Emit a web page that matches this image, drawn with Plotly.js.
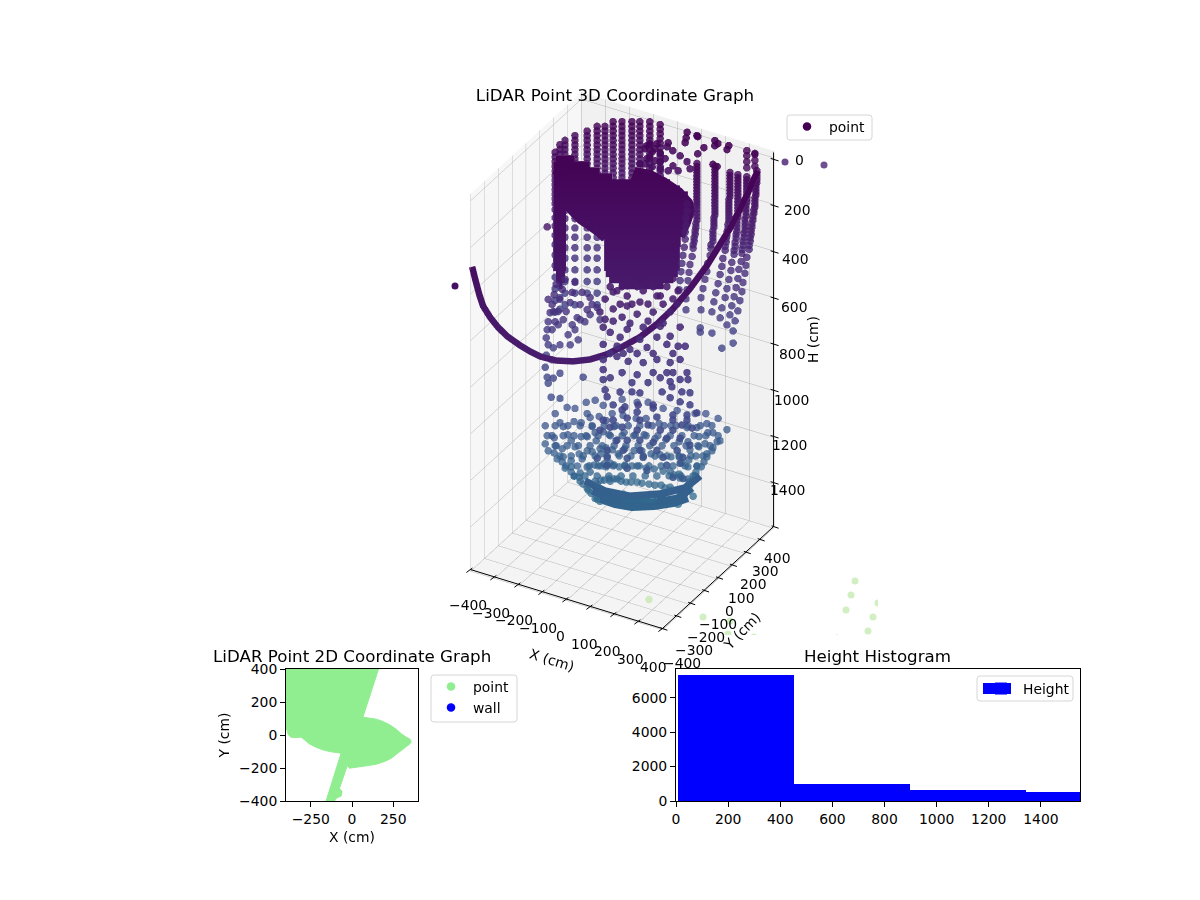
<!DOCTYPE html>
<html>
<head>
<meta charset="utf-8">
<script src="https://cdn.plot.ly/plotly-3.0.1.min.js"></script>
<style>html,body{margin:0;padding:0;background:#fff;overflow:hidden}</style>
</head>
<body>
<div id="chart" style="width:1200px;height:900px"></div>
<script>
// tick labels
const xyTicks = [-400, -300, -200, -100, 0, 100, 200, 300, 400];
const heightTicks = [0, 200, 400, 600, 800, 1000, 1200, 1400];

// back wall columns: x, y, highest point, lowest point (cm), all on the shared scan levels
const scanLevels = [4, 24, 44, 64, 84, 104, 124, 144, 164, 184, 204, 224, 244, 264, 284, 304, 324, 350, 385, 420, 460, 500, 545, 590, 640, 690, 740, 790];
const backColumns = [
    [-384, 182, 104, 790], [-379, 208, 84, 790], [-378, 243, 84, 790], [-347, 261, 64, 790],
    [-309, 283, 44, 740], [-278, 301, 24, 790], [-253, 315, 24, 500], [-228, 330, 4, 324],
    [-200, 346, 4, 324], [-169, 364, 4, 324], [-144, 378, 4, 324], [-113, 396, 4, 324], [-71, 398, 4, 324]
];

// curved columns on the right, x y h
const rightColumns = [
    [325,396,2],[325,396,6],[325,396,32],[325,396,58],
    [346,373,57],[346,373,83],[346,373,109],[343,372,135],[343,372,161],[340,370,187],[340,370,213],[337,368,239],[334,366,269],[331,364,299],[328,363,330],[325,361,360],[322,359,395],[315,355,429],[312,354,464],[309,352,498],[303,348,537],[300,346,576],[293,343,615],[287,339,659],[278,334,702],[272,330,745],
    [346,373,70],[346,373,96],[343,372,122],[343,372,148],[340,370,174],[340,370,200],[337,368,226],[334,366,254],[331,364,284],[328,363,315],[325,361,345],[322,359,378],
    [290,398,2],[290,398,24],[290,398,50],[290,398,76],
    [315,355,83],[315,355,109],[315,355,135],[315,355,161],[315,355,191],[312,354,221],[312,354,252],[309,352,282],[309,352,312],[306,350,343],[303,348,377],[300,346,412],[297,345,447],[290,341,481],[287,339,520],[281,336,559],[275,332,598],[268,328,637],[262,325,676],[253,319,719],
    [315,355,96],[315,355,122],[315,355,148],[315,355,176],[312,354,206],[312,354,236],[309,352,267],[309,352,297],[306,350,327],[303,348,360],[300,346,395],
    [287,339,74],[287,339,100],[287,339,126],[287,339,152],[287,339,178],[287,339,204],[287,339,230],[287,339,256],[284,337,286],[284,337,317],[281,336,347],[278,334,382],[275,332,416],[268,328,451],[265,327,486],[259,323,524],[253,319,563],[247,316,602],[237,310,646],[231,307,689],
    [287,339,87],[287,339,113],[287,339,139],[287,339,165],[287,339,191],[287,339,217],[287,339,243],[284,337,271],[284,337,301],[281,336,332],[278,334,365],[275,332,399],
    [262,325,65],[262,325,91],[262,325,117],[262,325,143],[262,325,169],[259,323,195],[259,323,221],[259,323,247],[259,323,273],[256,321,304],[253,319,334],[250,318,364],[247,316,399],[240,312,434],[237,310,468],[231,307,503],[225,303,542],[218,299,581],[212,296,620],[206,292,663],
    [262,325,78],[262,325,104],[262,325,130],[262,325,156],[259,323,182],[259,323,208],[259,323,234],[259,323,260],[256,321,288],[253,319,319],[250,318,349],[247,316,382],
    [215,298,39],[215,298,65],[215,298,91],[215,298,117],[215,298,143],[215,298,169],[215,298,195],[215,298,221],[215,298,247],[212,296,273],[212,296,299],[209,294,330],[209,294,360],[203,290,390],[200,289,421],[193,285,455],[190,283,490],[184,280,524],[178,276,563],[172,272,602],[172,272,654],[169,271,732],
    [215,298,52],[215,298,78],[215,298,104],[215,298,130],[215,298,156],[215,298,182],[215,298,208],[215,298,234],[212,296,260],[212,296,286],[209,294,315],[209,294,345],[203,290,375],
    [159,265,26],[159,265,52],[159,265,78],[159,265,104],[159,265,130],[159,265,156],[159,265,182],[159,265,208],[159,265,239],[159,265,269],[156,263,299],[153,262,330],[150,260,360],[147,258,390],[144,256,425],[137,253,460],[134,251,494],[131,249,529],[128,247,568],[125,245,607],[125,245,654],
    [159,265,39],[159,265,65],[159,265,91],[159,265,117],[159,265,143],[159,265,169],[159,265,195],[159,265,223],[159,265,254],[156,263,284],[153,262,315],[150,260,345],[147,258,375],
    [128,247,200],[128,247,230],[125,245,260],[125,245,291],[122,244,321],[122,244,351],[119,242,386],[115,240,421],[112,238,455],[109,236,490],[106,235,529],[103,233,568],
    [237,310,819],[272,330,797],[169,271,750],[206,292,754]
];

// scattered returns at the top right, x y h
const topScatter = [
    [41,398,2],[38,396,26],[84,395,1],[89,392,2],[116,390,40],[89,392,76],[157,398,1],[157,398,23],[170,398,10],[216,396,3],[208,397,23],[209,294,30],[222,301,39],[37,391,44],[-31,386,63],[-34,384,80],[-11,386,91],[16,391,107],
    [-72,305,44],[-41,323,36],[-56,314,70],[-72,305,100],[-31,329,113],[9,352,131],[53,377,113],[-78,301,57],[-63,310,36],[-47,319,57],[-31,329,79],[-16,338,100],[-94,292,122],[-78,301,122],[-56,314,135],[-31,329,144],[-6,343,152],[25,361,152],[62,383,144],[-63,310,92],[-47,319,109]
];

// lower left returns, x y h
const lowerLeft = [
    [-234,-135,204],
    [-206,-119,450],[-212,-123,494],[-219,-126,537],[-225,-130,572],[-231,-133,611],[-234,-135,645],[-237,-137,680],[-219,-126,645],[-209,-121,611],[-200,-115,567],[-194,-112,515],[-187,-108,472],[-178,-103,429],[-184,-106,602],[-175,-101,567],[-162,-94,528],[-156,-90,485],[-147,-85,442],[-156,-90,624],[-140,-81,593],[-131,-76,537],[-125,-72,485],[-116,-67,611],[-100,-58,580],[-94,-54,537],[-231,-133,710],[-215,-124,723],[-237,-137,754],[-219,-126,775],[-240,-139,806],[-234,-135,849],[-231,-133,875],[-215,-124,853],[-194,-112,832],[-222,-128,935],[-194,-112,940],[-122,-70,849],
    [-231,-133,515],[-215,-124,567],[-200,-115,624],[-169,-97,667],[-147,-85,645],[-131,-76,602],[-109,-63,559],[-100,-58,507],[-78,-45,550],[-194,-112,710],[-162,-94,710],[-137,-79,689],[-69,-40,602]
];

// sparse front returns in the middle, x y h
const frontPoints = [
    [113,-282,271],[134,-269,289],[150,-260,271],[166,-251,311],[197,-233,271],[216,-222,289],[247,-204,271],[269,-191,311],[290,-179,271],[325,-159,289],
    [144,-264,346],[181,-242,346],[231,-213,346],[278,-186,346],[322,-161,346],[122,-276,419],[175,-246,428],[231,-213,419],[278,-186,428],
    [113,-282,558],[153,-258,558],[197,-233,558],[247,-204,558],[309,-168,558],
    [97,-291,324],[122,-276,294],[166,-251,268],[206,-228,237],[259,-197,250],[309,-168,237],
    [81,-300,380],[122,-276,367],[166,-251,354],[206,-228,337],[259,-197,311],[309,-168,324],
    [97,-291,411],[150,-260,402],[197,-233,389],[247,-204,380],[300,-173,380],
    [91,-294,445],[113,-282,467],[166,-251,454],[216,-222,445],[269,-191,441],[331,-155,445],
    [144,-264,488],[206,-228,497],[259,-197,488],[300,-173,484],
    [91,-294,519],[134,-269,527],[175,-246,540],[228,-215,532],[290,-179,519],[347,-146,527],[325,-159,527],
    [91,-294,584],[134,-269,571],[169,-249,592],[216,-222,597],[259,-197,584],[300,-173,597],[331,-155,584],
    [91,-294,627],[150,-260,640],[197,-233,649],[247,-204,640],[290,-179,640],[309,-168,640],[353,-143,640],
    [91,-294,670],[113,-282,662],[181,-242,683],[231,-213,683],[269,-191,662],[300,-173,679],[331,-155,670],[356,-141,670],
    [97,-291,714],[144,-264,723],[181,-242,723],[206,-228,727],[275,-188,723],[306,-170,701],[337,-152,723],[362,-137,727],
    [103,-287,744],[122,-276,779],[159,-255,787],[200,-231,779],[247,-204,779],[300,-173,748],[331,-155,766],[362,-137,779],
    [150,-260,800],[197,-233,809],[247,-204,792],[309,-168,822],[353,-143,822],[384,-125,813],
    [91,-294,844],[122,-276,844],[166,-251,835],[206,-228,844],[259,-197,831],[309,-168,844],[353,-143,844],
    [81,-300,887],[113,-282,874],[150,-260,874],[197,-233,887],[231,-213,865],[269,-191,887],[309,-168,887],[337,-152,865],[369,-134,878],
    [134,-269,930],[166,-251,930],[206,-228,930],[247,-204,939],[290,-179,922],[331,-155,922],[362,-137,952],
    [103,-287,974],[153,-258,974],[206,-228,974],[259,-197,974],[322,-161,974],
    [72,-305,1008],[103,-287,1004],[166,-251,1008],[216,-222,1004],[278,-186,1004],[340,-150,1004],
    [103,-287,1038],[166,-251,1051],[228,-215,1060],[290,-179,1038],[331,-155,1030],
    [309,-168,1090],[340,-150,1095]
];

// bowl on the floor side: one row per scan line [x list, y list, h list]
const bowlSpokes = [
    [[-240,-212,-187,-159,-131,-106,-78],[-139,-123,-108,-92,-76,-61,-45],[1057,1109,1156,1208,1260,1308,1360]],
    [[-234,-209,-184,-159,-134,-109,-84],[-135,-121,-106,-92,-78,-63,-49],[1100,1143,1191,1234,1278,1325,1369]],
    [[-240,-212,-187,-159,-131,-106,-78],[-139,-123,-108,-92,-76,-61,-45],[1135,1174,1213,1256,1295,1334,1373]],
    [[-231,-203,-178,-150,-122,-97,-69],[-133,-117,-103,-87,-70,-56,-40],[1165,1200,1239,1273,1308,1347,1382]],
    [[-209,-184,-159,-134,-109,-84,-59],[-121,-106,-92,-78,-63,-49,-34],[1005,1061,1122,1178,1234,1295,1351]],
    [[-194,-169,-147,-125,-100,-78,-53],[-112,-98,-85,-72,-58,-45,-31],[1044,1096,1148,1200,1256,1308,1360]],
    [[-172,-150,-128,-109,-87,-66,-44],[-99,-87,-74,-63,-50,-38,-25],[979,1039,1104,1165,1226,1291,1351]],
    [[-147,-128,-109,-94,-75,-56,-37],[-85,-74,-63,-54,-43,-32,-22],[983,1044,1104,1169,1230,1291,1351]],
    [[-112,-100,-84,-69,-56,-41,-28],[-65,-58,-49,-40,-32,-23,-16],[957,1022,1087,1156,1221,1286,1351]],
    [[-109,-94,-81,-66,-50,-37,-22],[-63,-54,-47,-38,-29,-22,-13],[1005,1061,1122,1178,1234,1295,1351]],
    [[-84,-72,-59,-50,-37,-25,-12],[-49,-41,-34,-29,-22,-14,-7],[948,1018,1083,1152,1217,1286,1351]],
    [[-59,-50,-41,-31,-25,-16,-6],[-34,-29,-23,-18,-14,-9,-4],[970,1035,1096,1161,1226,1286,1351]],
    [[-31,-25,-19,-12,-9,-3,3],[-18,-14,-11,-7,-5,-2,2],[1005,1061,1122,1178,1234,1295,1351]],
    [[0,3,6,9,9,12,16],[0,2,4,5,5,7,9],[944,1013,1087,1156,1226,1299,1369]],
    [[47,44,41,37,31,28,25],[27,25,23,22,18,16,14],[957,1026,1096,1165,1230,1299,1369]],
    [[81,75,69,62,53,47,41],[47,43,40,36,31,27,23],[957,1026,1096,1165,1230,1299,1369]],
    [[128,116,103,91,75,62,50],[74,67,59,52,43,36,29],[983,1048,1113,1178,1239,1304,1369]],
    [[172,153,137,119,100,84,66],[99,88,79,69,58,49,38],[992,1057,1117,1182,1243,1308,1369]],
    [[228,203,178,153,128,103,78],[132,117,103,88,74,59,45],[1005,1065,1126,1191,1252,1312,1373]],
    [[262,234,206,178,150,122,94],[151,135,119,103,87,70,54],[1005,1065,1126,1191,1252,1312,1373]],
    [[265,240,212,187,162,134,109],[153,139,123,108,94,78,63],[1048,1104,1161,1217,1269,1325,1382]],
    [[300,268,240,209,178,150,119],[173,155,139,121,103,87,69],[1026,1087,1148,1204,1265,1321,1382]],
    [[284,259,231,206,181,153,128],[164,150,133,119,105,88,74],[1087,1135,1187,1234,1282,1334,1382]],
    [[328,297,265,234,206,175,144],[189,171,153,135,119,101,83],[1074,1126,1178,1230,1286,1338,1390]],
    [[306,281,256,231,209,184,159],[177,162,148,133,121,106,92],[1122,1165,1213,1256,1299,1347,1390]],
    [[284,265,247,228,212,194,175],[164,153,143,132,122,112,101],[1152,1191,1234,1273,1312,1356,1395]],
    [[222,187],[128,108],[1360,1347]]
];

// more of the bowl, ring by ring: [x list, y list, h]
const bowlRows = [
    [[-209,-169,-131,-94,-56,-19,19,56,94,131,169,206,244,281],[-121,-98,-76,-54,-32,-11,11,32,54,76,98,119,141,162],1057],
    [[-219,-184,-150,-112,-75,-37,0,37,75,112,150,187,225,262,300],[-126,-106,-87,-65,-43,-21,0,21,43,65,87,108,130,151,173],1100],
    [[-206,-172,-137,-100,-62,-25,12,50,87,125,162,200,237,275],[-119,-99,-79,-58,-36,-14,7,29,50,72,94,115,137,159],1143],
    [[-194,-159,-122,-84,-47,-9,28,66,103,140,178,215,253],[-112,-92,-70,-49,-27,-5,16,38,59,81,103,124,146],1187],
    [[-175,-140,-103,-66,-28,9,47,84,122,159,197,234],[-101,-81,-59,-38,-16,5,27,49,70,92,114,135],1230],
    [[-150,-116,-78,-41,-3,34,72,109,147,184,222],[-87,-67,-45,-24,-2,20,42,63,85,106,128],1273]
];

// dense scan rings near the lidar: h, then both ends (x, y)
const denseRings = [
    [37,-306,54,-247,88],[63,-315,49,-200,115],[89,-315,49,-169,133],[89,-59,196,-38,209],
    [115,-315,49,-130,155],[115,-66,193,9,236],[141,-315,49,50,260],[167,-315,49,81,278],[193,-315,49,106,292],
    [219,-315,49,112,296],[245,-315,49,115,297],[271,-256,83,112,296],[297,-231,97,106,292],[323,-206,112,97,287],
    [349,-178,128,90,283],[375,-156,141,84,279],[401,-156,141,84,279],[427,-156,141,81,278],[453,-156,141,81,278],
    [479,-156,141,81,278],[505,-156,141,81,278],[531,-150,144,75,274],[557,-140,150,60,265],[583,-110,168,30,248],
    [271,-315,49,-275,72],[297,-315,49,-275,72],[323,-315,49,-275,72],[349,-315,49,-275,72],[375,-315,49,-275,72],
    [401,-315,49,-275,72],[427,-315,49,-275,72],[453,-315,49,-275,72],[479,-315,49,-275,72],[505,-315,49,-275,72],
    [531,-306,54,-278,70],[557,-306,54,-278,70],[583,-297,60,-287,65]
];

// edge of the dense cap, x y h
const capEdgeX = [-315,-247,-169,-106,-69,-53,-13,34,81,112,119,106,87];
const capEdgeY = [49,88,133,169,191,200,223,251,278,296,299,292,281];
const capEdgeH = [89,115,136,158,149,89,97,132,175,223,262,314,375];
const capLowerX = [-306,-278,-231,-184,-156];
const capLowerY = [54,70,97,124,141];
const capLowerH = [175,240,305,349,383];

// flat bottom of the bowl, scan rings
const floorRingX = [[-116,-53,25,119,197,244],[-94,-37,25,103,175,219],[-69,-22,31,103,165,206]];
const floorRingY = [[-67,-31,14,69,114,141],[-54,-22,14,59,101,126],[-40,-13,18,59,96,119]];
const floorRingH = [[1295,1338,1360,1351,1325,1273],[1338,1373,1390,1386,1369,1325],[1373,1395,1408,1403,1390,1369]];

// the long arc of one scan in front
const arcX = [-396,-384,-366,-349,-322,-292,-259,-208,-172,-136,-81,-23,35,93,143,196,249,284,312,340,350,362,365,365,359,365];
const arcY = [-396,-395,-397,-398,-394,-389,-380,-375,-365,-356,-336,-313,-292,-269,-240,-210,-179,-125,-50,23,86,152,211,268,323,349];
const arcH = [284,333,392,437,479,515,548,574,594,609,620,618,603,575,541,501,445,399,344,277,231,180,139,101,72,38];

// returns outside of the axes box, on screen
const outlierX = [455, 785, 824];
const outlierY = [286, 162, 165];
const faintX = [703, 730, 728, 754, 837, 855, 851, 846, 878, 873, 868];
const faintY = [617, 621, 634, 637, 638, 581, 595, 610, 603, 617, 631];

// footprint of the 2D plot
const outlineX = [-400,161,66,106,147,187,228,268,299,329,349,359,349,329,299,268,238,197,147,86,35,-15,-29,-76,-60,-66,-96,-106,-157,-66,-137,-177,-218,-258,-288,-308,-339,-370,-386,-394,-400];
const outlineY = [400,400,108,102,96,82,62,35,7,-13,-23,-39,-56,-70,-94,-114,-141,-161,-177,-187,-195,-201,-187,-323,-343,-370,-384,-400,-400,-110,-100,-90,-74,-54,-29,-13,-15,-13,1,31,35];
const map2dXTicks = [-250, 0, 250];
const map2dYTicks = [-400, -200, 0, 200, 400];

// height histogram
const histEdges = [6, 451, 899, 1344];
const histWidths = [445, 448, 445, 446];
const histCounts = [7326, 988, 640, 523];
const histXTicks = [0, 200, 400, 600, 800, 1000, 1200, 1400];
const histYTicks = [0, 2000, 4000, 6000];

const FONT = "DejaVu Sans";
const W = 1200, H = 900;

function triples(list) {
    return {x: list.map(p => p[0]), y: list.map(p => p[1]), z: list.map(p => p[2])};
}

function columnsToTriples() {
    const out = [];
    backColumns.forEach(c => {
        scanLevels.forEach(h => {
            if (h >= c[2] && h <= c[3]) out.push([c[0], c[1], h]);
        });
    });
    return out;
}

function spokesToTriples() {
    const out = [];
    bowlSpokes.forEach(s => s[0].forEach((x, i) => out.push([x, s[1][i], s[2][i]])));
    bowlRows.forEach(r => r[0].forEach((x, i) => out.push([x, r[1][i], r[2]])));
    return out;
}

function ringsToSegments(rings) {
    const seg = {x: [], y: [], z: []};
    rings.forEach(r => {
        seg.x.push(r[1], r[3], null);
        seg.y.push(r[2], r[4], null);
        seg.z.push(r[0], r[0], null);
    });
    return seg;
}

function floorRingSegments() {
    const seg = {x: [], y: [], z: []};
    floorRingX.forEach((xs, k) => {
        seg.x.push(...xs, null);
        seg.y.push(...floorRingY[k], null);
        seg.z.push(...floorRingH[k], null);
    });
    return seg;
}

function points3d(list, opacity) {
    const t = triples(list);
    return Object.assign(t, {
        type: "scatter3d", mode: "markers", showlegend: false, hoverinfo: "skip", opacity: opacity,
        marker: {size: 4.4, color: t.z, colorscale: "Viridis", cmin: 0, cmax: 4000, line: {width: 0}}
    });
}

function thick3d(seg, width, cmax, opacity) {
    return Object.assign(seg, {
        type: "scatter3d", mode: "lines", showlegend: false, hoverinfo: "skip", opacity: opacity,
        connectgaps: false,
        line: {width: width, color: seg.z.map(v => v === null ? 0 : v), colorscale: "Viridis", cmin: 0, cmax: cmax}
    });
}

// axis furniture of the 3D box: same view as the scene camera, in pixels
function boxPx(x, y, h) {
    return [622 + 0.24 * x + 0.139 * y, 180.9 + 0.0738 * x - 0.1275 * y + 0.2309 * h];
}

function line(a, b) {
    return {type: "line", xref: "paper", yref: "paper", layer: "above",
        x0: a[0] / W, y0: 1 - a[1] / H, x1: b[0] / W, y1: 1 - b[1] / H,
        line: {color: "#000", width: 1}};
}

function legendFrame(x0, y0, x1, y1) {
    const r = 3;
    const fx = v => v / W, fy = v => 1 - v / H;
    const p = (a, b) => fx(a) + " " + fy(b);
    return {
        type: "path", xref: "paper", yref: "paper", layer: "below",
        path: "M " + p(x0 + r, y0) + " L " + p(x1 - r, y0) + " Q " + p(x1, y0) + " " + p(x1, y0 + r) +
            " L " + p(x1, y1 - r) + " Q " + p(x1, y1) + " " + p(x1 - r, y1) +
            " L " + p(x0 + r, y1) + " Q " + p(x0, y1) + " " + p(x0, y1 - r) +
            " L " + p(x0, y0 + r) + " Q " + p(x0, y0) + " " + p(x0 + r, y0) + " Z",
        fillcolor: "rgba(255,255,255,0.8)", line: {color: "#d6d6d6", width: 1}
    };
}

function axisShapes() {
    const shapes = [
        line(boxPx(-400, -400, 1590), boxPx(400, -400, 1590)),
        line(boxPx(400, -400, 1590), boxPx(400, 400, 1590)),
        line(boxPx(400, 400, 1590), boxPx(400, 400, -30))
    ];
    xyTicks.forEach(v => {
        let p = boxPx(v, -400, 1590);
        shapes.push(line([p[0] + 2, p[1] - 1.5], [p[0] - 4, p[1] + 3]));
        p = boxPx(400, v, 1590);
        shapes.push(line([p[0] - 2, p[1] - 0.7], [p[0] + 5, p[1] + 1.7]));
    });
    heightTicks.forEach(v => {
        const p = boxPx(400, 400, v);
        shapes.push(line([p[0] - 3, p[1] - 1], [p[0] + 5, p[1] + 1.5]));
    });
    shapes.push(legendFrame(787, 115, 872, 140));
    shapes.push(legendFrame(431, 675, 517, 722));
    shapes.push(legendFrame(977, 676, 1073, 701));
    // legend key of the histogram is wider than the library's own
    shapes.push({type: "rect", xref: "paper", yref: "paper", layer: "above",
        x0: 983 / W, x1: 1011 / W, y0: 1 - 683 / H, y1: 1 - 694 / H, fillcolor: "#0000ff", line: {width: 0}});
    return shapes;
}

function label(text, px, py, size, angle) {
    return {text: text, xref: "paper", yref: "paper", x: px / W, y: 1 - py / H, xanchor: "center", yanchor: "middle",
        showarrow: false, textangle: angle || 0, font: {family: FONT, size: size, color: "#000"}};
}

function tickText(v) {
    return String(v).replace("-", "\u2212");
}

function annotations() {
    const notes = [
        label("LiDAR Point 2D Coordinate Graph", 352, 656, 16.7),
        label("Height Histogram", 877, 656, 16.7),
        label("X (cm)", 552, 660, 13.9, 17),
        label("Y (cm)", 742, 631, 13.9, -46),
        label("H (cm)", 813, 340, 13.9, -90)
    ];
    xyTicks.forEach((v, i) => {
        notes.push(label(tickText(v), 468 + 23.2 * i, 605 + 7.7 * i, 13.9));
        notes.push(label(tickText(v), 682 + 11.9 * i, 663 - 13.1 * i, 13.9));
    });
    const heightLabelY = [160, 210, 259, 307, 354, 400, 445, 490];
    heightTicks.forEach((v, i) => {
        notes.push(label(String(v), 799 - 1.6 * i, heightLabelY[i], 13.9));
    });
    return notes;
}

function cartesianAxis(domain, range, tickvals, titleText, standoff) {
    return {
        domain: domain, range: range, tickmode: "array", tickvals: tickvals,
        showgrid: false, zeroline: false, showline: true, mirror: true, linecolor: "#000", linewidth: 1,
        ticks: "outside", ticklen: 5, tickwidth: 1, tickcolor: "#000",
        tickfont: {family: FONT, size: 13.9, color: "#000"},
        title: {text: titleText, font: {family: FONT, size: 13.9, color: "#000"}, standoff: standoff}
    };
}

function legendBox(px, py, xanchor) {
    return {
        x: px / W, y: 1 - py / H, xanchor: xanchor, yanchor: "top", bgcolor: "rgba(255,255,255,0)",
        borderwidth: 0, itemwidth: 34, font: {family: FONT, size: 13.9, color: "#000"}
    };
}

function legendDot(name, color, legendId) {
    return {type: "scatter", mode: "markers", x: [null], y: [null], name: name, legend: legendId,
        marker: {color: color, size: 8.5}, hoverinfo: "skip"};
}

const gridAxis = {
    showbackground: true, gridcolor: "#b0b0b0", gridwidth: 1, showticklabels: false, ticks: "",
    zeroline: false, showline: false, showspikes: false, title: {text: ""}
};

const layout = {
    width: W, height: H, margin: {l: 0, r: 0, t: 0, b: 0}, paper_bgcolor: "#fff", plot_bgcolor: "#fff",
    title: {text: "LiDAR Point 3D Coordinate Graph", x: 615 / W, xanchor: "center", y: 1 - 95 / H, yanchor: "middle",
        font: {family: FONT, size: 16.7, color: "#000"}},
    scene: {
        domain: {x: [366 / W, 878 / W], y: [265 / H, 813 / H]},
        aspectmode: "manual",
        aspectratio: {x: 0.809, y: 0.809, z: 1.624},
        camera: {projection: {type: "orthographic"}, eye: {x: 0.928, y: -1.608, z: 1.16}, up: {x: 0, y: 0, z: 1}},
        xaxis: Object.assign({}, gridAxis, {range: [-400, 400], tickvals: xyTicks, backgroundcolor: "#f7f7f7"}),
        yaxis: Object.assign({}, gridAxis, {range: [-400, 400], tickvals: xyTicks, backgroundcolor: "#f1f1f1"}),
        zaxis: Object.assign({}, gridAxis, {range: [1590, -30], tickvals: heightTicks, backgroundcolor: "#f4f4f4"})
    },
    xaxis: cartesianAxis([286 / W, 418 / W], [-400, 400], map2dXTicks, "X (cm)", 6),
    yaxis: cartesianAxis([99 / H, 231 / H], [-400, 400], map2dYTicks, "Y (cm)", 6),
    xaxis2: Object.assign(cartesianAxis([676 / W, 1080 / W], [0, 1550], histXTicks, "", 4), {anchor: "y2"}),
    yaxis2: Object.assign(cartesianAxis([99 / H, 231 / H], [0, 7674], histYTicks, "", 4), {anchor: "x2"}),
    // screen sized axes for what falls outside of the 3D box
    xaxis3: {domain: [366 / W, 878 / W], range: [366, 878], visible: false, anchor: "y3"},
    yaxis3: {domain: [265 / H, 813 / H], range: [635, 87], visible: false, anchor: "x3"},
    legend: legendBox(785, 111, "left"),
    legend2: legendBox(429, 671, "left"),
    legend3: legendBox(1075, 673, "right"),
    bargap: 0,
    shapes: axisShapes(),
    annotations: annotations()
};

const traces = [
    points3d(columnsToTriples(), 0.82),
    points3d(rightColumns, 0.8),
    points3d(topScatter, 0.88),
    points3d(lowerLeft, 0.8),
    thick3d(ringsToSegments(denseRings), 14, 9000, 1),
    thick3d({x: capEdgeX, y: capEdgeY, z: capEdgeH}, 12, 9000, 1),
    thick3d({x: capLowerX, y: capLowerY, z: capLowerH}, 12, 9000, 1),
    thick3d(floorRingSegments(), 15, 4400, 1),
    points3d(spokesToTriples(), 0.75),
    points3d(frontPoints, 0.88),
    thick3d({x: arcX, y: arcY, z: arcH}, 13, 8000, 1),
    {type: "scatter3d", mode: "markers", showlegend: false, hoverinfo: "skip", x: [284], y: [-298], z: [1551],
        marker: {size: 4.4, color: "#b0e090", opacity: 0.5, line: {width: 0}}},
    {type: "scatter", mode: "markers", xaxis: "x3", yaxis: "y3", x: outlierX, y: outlierY, showlegend: false, hoverinfo: "skip",
        marker: {size: 7, color: ["#451062", "#6a4a8c", "#6e4f8f"]}},
    {type: "scatter", mode: "markers", xaxis: "x3", yaxis: "y3", x: faintX, y: faintY, showlegend: false, hoverinfo: "skip",
        marker: {size: 7, color: "#7ad151", opacity: 0.35}},
    {type: "scatter", mode: "lines", x: outlineX, y: outlineY, fill: "toself", fillcolor: "#90ee90",
        line: {color: "#90ee90", width: 1}, showlegend: false, hoverinfo: "skip"},
    {type: "bar", xaxis: "x2", yaxis: "y2", x: histEdges, y: histCounts, width: histWidths, offset: 0,
        marker: {color: "#0000ff", line: {width: 0}}, name: "Height", legend: "legend3", showlegend: true, hoverinfo: "skip"},
    legendDot("point", "#440154", "legend"),
    legendDot("point", "#90ee90", "legend2"),
    legendDot("wall", "#0000ff", "legend2")
];

Plotly.newPlot("chart", traces, layout, {displayModeBar: false});
</script>
</body>
</html>
